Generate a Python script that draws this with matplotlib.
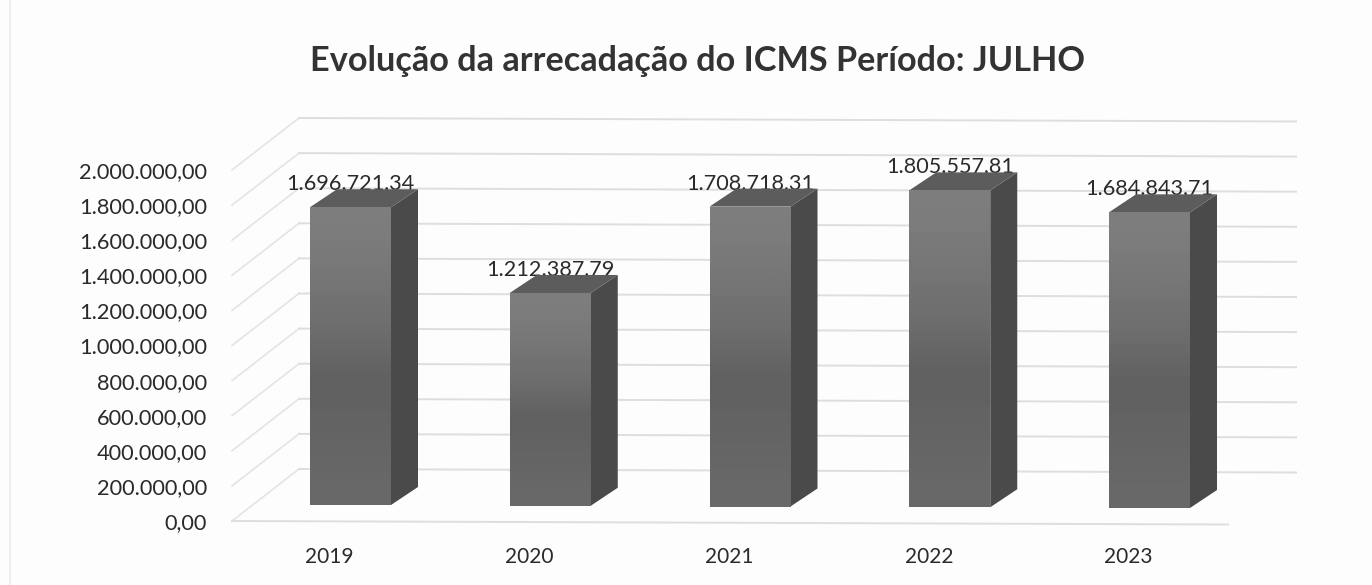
import numpy as np
import matplotlib
matplotlib.use("Agg")
import matplotlib.pyplot as plt
from matplotlib.patches import Polygon

years = ["2019", "2020", "2021", "2022", "2023"]
values = [1696721.34, 1212387.79, 1708718.31, 1805557.81, 1684843.71]
yticks = [0, 200000, 400000, 600000, 800000, 1000000, 1200000, 1400000, 1600000, 1800000, 2000000]
title = "Evolução da arrecadação do ICMS Período: JULHO"

W, H = 1372, 585
PX_X = 199.75            # pixels per category
PX_Y = 175.5 / 1e6       # pixels per value unit


def br(v):
    return f"{v:,.2f}".replace(",", "X").replace(".", ",").replace("X", ".")


def dx(px):
    return px / PX_X


def dy(px):
    return px / PX_Y


plt.rcParams["font.family"] = ["Lato", "DejaVu Sans"]
fig = plt.figure(figsize=(W / 100, H / 100), dpi=100, facecolor="#fdfdfd")
ax = fig.add_axes([232 / W, 64 / H, (1228 - 232) / W, (521 - 170) / H])
ax.set_facecolor("none")
x0 = -(350.5 - 232) / PX_X
ax.set_xlim(x0, x0 + (1228 - 232) / PX_X)
ax.set_ylim(0, 2000000)
for s in ax.spines.values():
    s.set_visible(False)

tilt = dy(0.75)          # the scanned page sits slightly rotated
wall_dx, wall_dy = dx(67), dy(52)
diag_c, grid_c = "#e4e4e4", "#dedede"
for v in yticks:
    ax.plot([x0, x0 + wall_dx], [v, v + wall_dy], color=diag_c, lw=1.2, clip_on=False, zorder=1)
    ax.plot([x0 + wall_dx, x0 + wall_dx + dx(997)], [v + wall_dy, v + wall_dy - dy(3.5)],
            color=grid_c, lw=1.4, clip_on=False, zorder=1)
ax.plot([x0, x0 + dx(996)], [0, -dy(3.5)], color=grid_c, lw=1.4, clip_on=False, zorder=1)

bar_w = 81 / PX_X
base = dy(16)
depth_x, depth_y = dx(27), dy(18)
grad = np.array([0.49, 0.48, 0.46, 0.44, 0.42, 0.38, 0.385, 0.39, 0.40, 0.41]).reshape(-1, 1)
for i, v in enumerate(values):
    b = base - i * tilt
    l, r = i - bar_w / 2, i + bar_w / 2
    top = b + v
    ax.text(i, top + dy(24), br(v), ha="center", va="center", fontsize=15.6, color="#2a2a2a", zorder=2)
    rect = ax.bar(i, v, width=bar_w, bottom=b, color="#6a6a6a", zorder=5, clip_on=False)[0]
    im = ax.imshow(grad, cmap="gray", vmin=0, vmax=1, extent=(l, r, b, top), aspect="auto",
                   zorder=6, interpolation="bicubic")
    im.set_clip_path(rect)
    ax.add_patch(Polygon([(r, b), (r + depth_x, b + depth_y), (r + depth_x, top + depth_y), (r, top)],
                         closed=True, fc="#4a4a4a", ec="none", zorder=5, clip_on=False))
    ax.add_patch(Polygon([(l, top), (l + depth_x, top + depth_y), (r + depth_x, top + depth_y), (r, top)],
                         closed=True, fc="#5c5c5c", ec="none", zorder=5, clip_on=False))
ax.set_xlim(x0, x0 + (1228 - 232) / PX_X)
ax.set_ylim(0, 2000000)

ax.set_yticks(yticks)
ax.set_yticklabels([br(v) for v in yticks], fontsize=15.7, color="#2a2a2a")
ax.tick_params(axis="y", length=0, pad=18)
ax.set_xticks(np.arange(len(years)) - dx(21))
ax.set_xticklabels(years, fontsize=15, color="#2a2a2a")
ax.tick_params(axis="x", length=0, pad=19)

fig.text(698 / W, 1 - 61 / H, title, ha="center", va="center", fontsize=24.7, fontweight="bold", color="#333333")

# faint frame edge left by the scan
fig.add_artist(plt.Line2D([10 / W, 10 / W], [0, 1], color="#ececec", lw=1.2))

fig.savefig("out.png", dpi=100, facecolor=fig.get_facecolor())
